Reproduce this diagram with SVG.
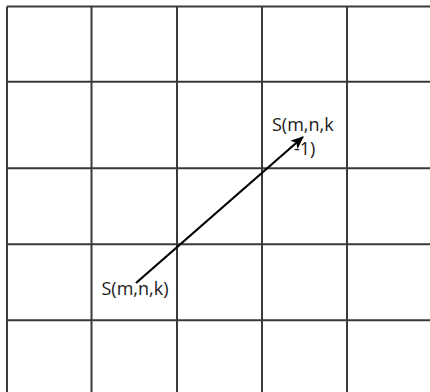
<svg xmlns="http://www.w3.org/2000/svg" width="430" height="392" viewBox="0 0 430 392">
<style>
.g{stroke:#3a3a3a;stroke-width:2;fill:none}
.t{font-family:"Open Sans","Liberation Sans",sans-serif;font-size:18px;fill:#1a1a1a}
.a{stroke:#000;stroke-width:2.2;fill:none}
</style>
<defs>
<marker id="ah" viewBox="0 0 12 10" refX="11" refY="5" markerWidth="6" markerHeight="5" orient="auto" markerUnits="strokeWidth">
<path d="M0,0 L12,5 L0,10 L3,5 Z" fill="#000"/>
</marker>
</defs>
<rect width="430" height="392" fill="#fff"/>
<g id="grid">
<line class="g" x1="7" y1="6.5" x2="430" y2="6.5"/>
<line class="g" x1="7" y1="81.7" x2="430" y2="81.7"/>
<line class="g" x1="7" y1="168.3" x2="430" y2="168.3"/>
<line class="g" x1="7" y1="244.3" x2="430" y2="244.3"/>
<line class="g" x1="7" y1="320.3" x2="430" y2="320.3"/>
<line class="g" x1="7" y1="6.5" x2="7" y2="392"/>
<line class="g" x1="91.5" y1="6.5" x2="91.5" y2="392"/>
<line class="g" x1="177" y1="6.5" x2="177" y2="392"/>
<line class="g" x1="262" y1="6.5" x2="262" y2="392"/>
<line class="g" x1="347" y1="6.5" x2="347" y2="392"/>
</g>
<g id="connectors">
<line class="a" x1="136" y1="283" x2="303" y2="137" marker-end="url(#ah)"/>
</g>
<g id="node-start">
<text class="t" x="101.5" y="295">S(m,n,k)</text>
</g>
<g id="node-end">
<text class="t" x="272" y="131">S(m,n,k</text>
<text class="t" x="294" y="155">-1)</text>
</g>
</svg>
